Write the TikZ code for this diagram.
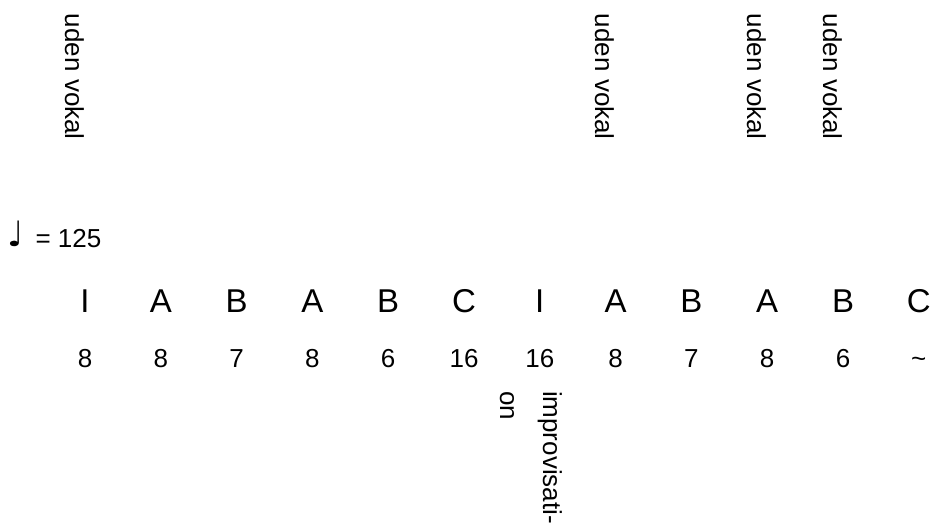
\documentclass[tikz,border=0pt]{standalone}
\usepackage{fontspec}
\setmainfont{Liberation Sans}
\newfontfamily\dejavu{DejaVu Sans}
\begin{document}
\begin{tikzpicture}[x=1pt,y=1pt,
  every node/.style={inner sep=0pt, outer sep=0pt},
  sect/.style={font=\fontsize{33}{36}\selectfont, anchor=base},
  bars/.style={font=\fontsize{26}{30}\selectfont, anchor=base},
  vert/.style={font=\fontsize{26}{30}\selectfont, rotate=-90, anchor=base west}]
\useasboundingbox (0,0) rectangle (931,-524);
% vertical labels
\node[vert] (v1) at (65,-14) {uden vokal};
\node[vert] (v2) at (595,-14) {uden vokal};
\node[vert] (v3) at (747,-14) {uden vokal};
\node[vert] (v4) at (823,-14) {uden vokal};
% tempo
\node[font=\dejavu\fontsize{35}{35}\selectfont, anchor=base west] (note) at (8,-246) {♩};
\node[font=\fontsize{26}{30}\selectfont, anchor=base west] (tempo) at (35.5,-247) {= 125};
% sections
\foreach \l [count=\i] in {I,A,B,A,B,C,I,A,B,A,B,C}
  \node[sect] (s\i) at ({85+75.8*(\i-1)},-312) {\l};
\foreach \n [count=\i] in {8,8,7,8,6,16,16,8,7,8,6,\textasciitilde}
  \node[bars] (n\i) at ({85+75.8*(\i-1)},-367) {\n};
% improvisation
\node[vert] (imp1) at (543,-391) {improvisati-};
\node[vert] (imp2) at (500,-391) {on};
\end{tikzpicture}
\end{document}
